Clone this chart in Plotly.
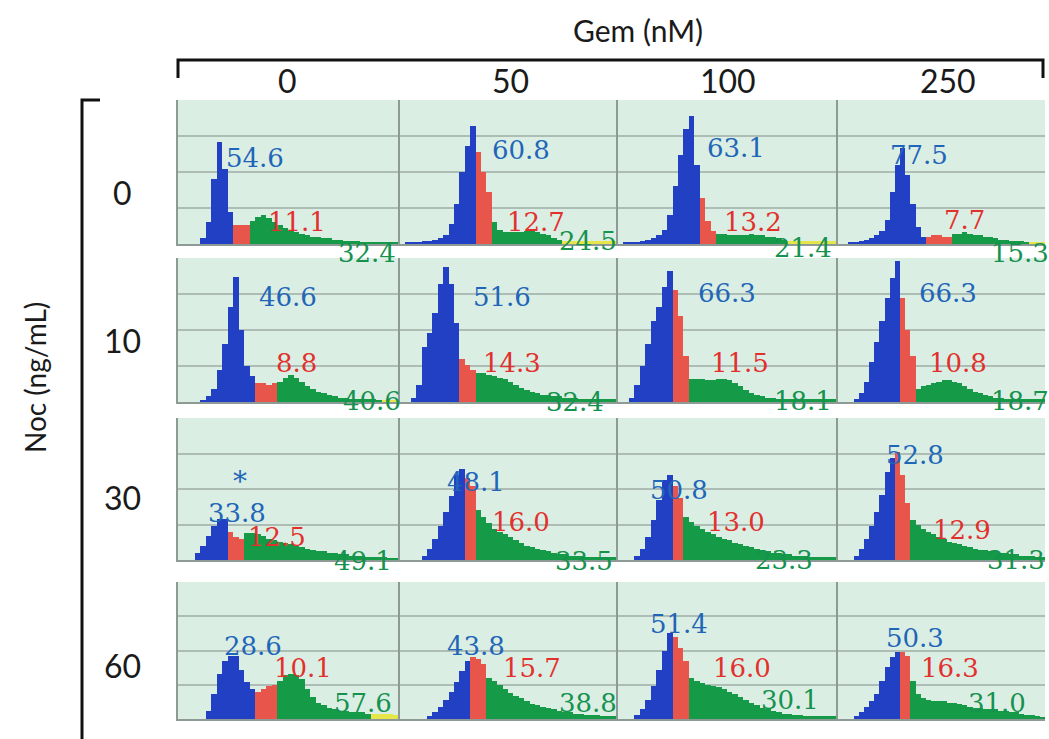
import plotly.graph_objects as go

# Treatment levels
gem_labels = ["0", "50", "100", "250"]      # Gem (nM), columns
noc_labels = ["0", "10", "30", "60"]        # Noc (ng/mL), rows

# Cell-cycle fractions (%) per Noc row x Gem column
g1_pct = [[54.6, 60.8, 63.1, 77.5],
          [46.6, 51.6, 66.3, 66.3],
          [33.8, 48.1, 50.8, 52.8],
          [28.6, 43.8, 51.4, 50.3]]
s_pct = [[11.1, 12.7, 13.2, 7.7],
         [8.8, 14.3, 11.5, 10.8],
         [12.5, 16.0, 13.0, 12.9],
         [10.1, 15.7, 16.0, 16.3]]
g2m_pct = [[32.4, 24.5, 21.4, 15.3],
           [40.6, 32.4, 18.1, 18.7],
           [49.1, 33.5, 23.3, 31.3],
           [57.6, 38.8, 30.1, 31.0]]

# DNA-content histograms: 40 bins, relative counts (% of plot height)
hist_noc0 = [
    [0, 0, 0, 0, 4, 15, 45, 71, 52, 22, 13, 13, 13, 16, 19, 20, 18, 15, 13, 11, 9, 8, 7, 6, 5, 5, 4, 4, 3, 3, 2, 2, 2, 1.5, 1.5, 1, 1, 1, 1, 1],
    [0, 1, 1, 1.5, 2, 2, 3, 4, 6, 14, 28, 50, 68, 82, 64, 50, 36, 15, 10, 8, 8, 8, 8, 9, 9, 8, 7, 6, 4, 3, 2, 2, 2, 2, 2, 2, 2, 2, 2, 2],
    [0, 1, 1, 1.5, 2, 3, 4, 6, 10, 20, 40, 62, 80, 89, 55, 32, 16, 9, 7, 7, 6, 6, 6, 6, 7, 6, 6, 5, 5, 4, 3, 2, 2, 2, 2, 2, 2, 2, 2, 2],
    [0, 0, 1, 1, 2, 3, 4, 6, 9, 17, 36, 55, 67, 48, 28, 12, 5, 5, 6, 6, 5, 5, 7, 7, 8, 7, 6, 6, 5, 5, 4, 3, 3, 2, 2, 2, 1.5, 1.5, 1.5, 1.5],
]
hist_noc10 = [
    [0, 0, 0, 0, 1, 4, 9, 22, 40, 66, 87, 50, 25, 18, 13, 13, 12, 13, 14, 17, 19, 17, 14, 11, 9, 7, 6, 5, 4, 3, 3, 2, 2, 2, 2, 2, 1.5, 1.5, 1.5, 1.5],
    [0, 0, 3, 12, 38, 48, 62, 82, 94, 82, 55, 30, 26, 22, 20, 20, 19, 18, 17, 16, 14, 12, 10, 8, 7, 6, 5, 5, 4, 4, 3, 3, 3, 2, 2, 2, 2, 2, 2, 2],
    [0, 0, 3, 12, 25, 40, 56, 66, 80, 91, 78, 60, 32, 16, 16, 16, 15, 15, 16, 16, 15, 13, 11, 8, 6, 5, 4, 3, 3, 2, 2, 2, 2, 2, 2, 2, 2, 2, 2, 2],
    [0, 0, 0, 2, 6, 14, 28, 42, 56, 72, 86, 98, 72, 50, 32, 9, 11, 12, 13, 14, 15, 15, 14, 13, 11, 9, 7, 6, 5, 4, 3, 3, 2, 2, 2, 2, 2, 2, 2, 2],
]
hist_noc30 = [
    [0, 0, 0, 5, 10, 17, 24, 29, 29, 20, 16, 15, 19, 19, 18, 17, 15, 14, 13, 12, 11, 10, 9, 8, 7, 6, 6, 5, 5, 4, 4, 3, 3, 3, 2, 2, 2, 2, 1.5, 1.5],
    [0, 0, 0, 0, 3, 8, 15, 24, 34, 45, 60, 64, 58, 52, 35, 30, 26, 22, 20, 18, 16, 14, 12, 10, 9, 8, 7, 6, 5, 4, 4, 3, 3, 3, 2, 2, 2, 2, 2, 2],
    [0, 0, 0, 3, 8, 16, 28, 42, 56, 60, 52, 44, 30, 27, 24, 22, 20, 18, 16, 15, 14, 12, 11, 10, 9, 8, 7, 6, 5, 5, 4, 4, 3, 3, 3, 2, 2, 2, 2, 2],
    [0, 0, 0, 3, 8, 15, 24, 34, 46, 62, 72, 76, 60, 40, 28, 25, 22, 20, 18, 16, 15, 13, 12, 11, 10, 9, 8, 7, 7, 6, 6, 5, 5, 4, 4, 3, 3, 3, 2, 2],
]
hist_noc60 = [
    [0, 0, 0, 0, 0, 6, 18, 33, 42, 46, 46, 36, 27, 22, 20, 22, 24, 25, 28, 32, 33, 32, 29, 22, 16, 12, 10, 8, 7, 6, 6, 5, 5, 5, 4, 4, 4, 4, 4, 3],
    [0, 0, 0, 0, 0, 2, 5, 9, 14, 20, 27, 35, 42, 45, 44, 40, 30, 28, 25, 22, 19, 17, 15, 13, 11, 10, 9, 8, 7, 6, 5, 5, 4, 4, 3, 3, 3, 2, 2, 2],
    [0, 0, 0, 3, 7, 14, 24, 36, 50, 63, 60, 52, 42, 30, 28, 26, 25, 24, 23, 22, 20, 18, 16, 14, 12, 10, 8, 7, 6, 5, 4, 4, 3, 3, 2, 2, 2, 2, 2, 2],
    [0, 0, 0, 2, 5, 9, 13, 18, 28, 38, 45, 49, 49, 46, 28, 18, 15, 14, 13, 13, 13, 12, 12, 11, 10, 9, 8, 8, 7, 7, 7, 6, 6, 5, 5, 4, 3, 3, 2, 1],
]
histograms = [hist_noc0, hist_noc10, hist_noc30, hist_noc60]

# Gate boundaries (bin index where S, G2/M and the tail gate begin)
s_gate = [[10, 14, 15, 17], [14, 11, 10, 12], [9, 12, 10, 11], [14, 13, 10, 12]]
g2m_gate = [[13, 17, 18, 22], [18, 14, 13, 15], [12, 14, 12, 14], [18, 16, 13, 14]]
tail_gate = [[40, 30, 31, 37], [37, 40, 40, 40], [40, 40, 40, 40], [35, 40, 40, 40]]

# ---- layout geometry (pixels) ----
W, H = 1049, 739
col_px = [(178, 398), (400, 616), (618, 836), (838, 1045)]
row_px = [(100, 244), (258, 402), (418, 560), (582, 719)]

# label anchor points relative to each panel (0-100 of width / height)
g1_xy = [[(35, 60), (56, 65), (54, 67), (39, 62)],
         [(50, 73), (47, 73), (50, 76), (53, 76)],
         [(27, 33), (35, 55), (28, 49), (37, 74)],
         [(34, 53), (35, 53), (28, 69), (37, 59)]]
s_xy = [[(54, 15), (63, 15), (62, 15), (61, 17)],
        [(54, 27), (52, 27), (56, 27), (58, 27)],
        [(45, 16), (56, 27), (54, 27), (60, 21)],
        [(57, 37), (61, 37), (57, 37), (54, 37)]]
g2m_xy = [[(86, -6), (87, 2), (85, -3), (88, -6)],
          [(88, 1), (81, 0), (85, 1), (88, 1)],
          [(84, -1), (85, -1), (76, 0), (86, 0)],
          [(84, 12), (87, 12), (79, 14), (77, 12)]]

BLUE, RED, GREEN, YELLOW = "#2140c4", "#e8554b", "#159a47", "#e6e64a"
TXT_BLUE, TXT_RED, TXT_GREEN = "#1f66b8", "#e2312d", "#16924f"
NUM_FONT = "DejaVu Serif"
SANS = "Lato"


def px(x):
    return x / W


def py(y):
    return 1 - y / H


def panel_point(r, c, ax, ay):
    x0, x1 = col_px[c]
    y0, y1 = row_px[r]
    return px(x0 + ax / 100 * (x1 - x0)), py(y1 - ay / 100 * (y1 - y0))


def paper_text(x, y, text, size, color, family, **kw):
    return dict(x=x, y=y, xref="paper", yref="paper", text=text, showarrow=False,
                xanchor="center", yanchor="middle",
                font=dict(family=family, size=size, color=color), **kw)


fig = go.Figure()
layout_axes = {}
annotations = []
bin_w = 2.5
centers = [bin_w * i + bin_w / 2 for i in range(40)]

for r in range(4):
    for c in range(4):
        n = r * 4 + c + 1
        sfx = "" if n == 1 else str(n)
        xref, yref = "x" + sfx, "y" + sfx
        counts = histograms[r][c]
        b1, b2, b3 = s_gate[r][c], g2m_gate[r][c], tail_gate[r][c]
        segments = [(0, b1, BLUE), (b1, b2, RED), (b2, b3, GREEN), (b3, 40, YELLOW)]
        for lo, hi, col in segments:
            if hi <= lo:
                continue
            fig.add_trace(go.Bar(
                x=centers[lo:hi], y=counts[lo:hi], width=bin_w,
                marker=dict(color=col, line=dict(width=0)),
                xaxis=xref, yaxis=yref, showlegend=False, hoverinfo="skip"))

        x0, x1 = col_px[c]
        y0, y1 = row_px[r]
        layout_axes["xaxis" + sfx] = dict(
            domain=[px(x0), px(x1)], range=[0, 100], anchor=yref,
            showgrid=False, showticklabels=False, zeroline=False,
            showline=True, linecolor="#8e9a95", linewidth=2, ticks="", fixedrange=True)
        layout_axes["yaxis" + sfx] = dict(
            domain=[py(y1), py(y0)], range=[0, 100], anchor=xref,
            tickvals=[25, 50, 75], showticklabels=False, ticks="",
            showgrid=True, gridcolor="#aebcb6", gridwidth=1.5, zeroline=False,
            showline=True, linecolor="#8e9a95", linewidth=2, fixedrange=True)

        for val, (ax, ay), colr in [(g1_pct[r][c], g1_xy[r][c], TXT_BLUE),
                                    (s_pct[r][c], s_xy[r][c], TXT_RED),
                                    (g2m_pct[r][c], g2m_xy[r][c], TXT_GREEN)]:
            x, y = panel_point(r, c, ax, ay)
            annotations.append(paper_text(x, y, f"{val:.1f}", 26, colr, NUM_FONT))

# asterisk over the Noc 30 / Gem 0 G1 value
ax_, ay_ = panel_point(2, 0, 28, 55)
annotations.append(paper_text(ax_, ay_, "*", 28, TXT_BLUE, NUM_FONT))

# column / row headers
annotations.append(paper_text(px(638), py(30), "Gem (nM)", 30, "#1a1a1a", SANS))
for c, lab in enumerate(gem_labels):
    xc = [287, 510, 728, 948][c]
    annotations.append(paper_text(px(xc), py(80), lab, 32, "#1a1a1a", SANS))
for r, lab in enumerate(noc_labels):
    yc = [192, 340, 497, 665][r]
    annotations.append(paper_text(px(122), py(yc), lab, 32, "#1a1a1a", SANS))
annotations.append(paper_text(px(35), py(378), "Noc (ng/mL)", 28, "#1a1a1a", SANS,
                              textangle=-90))

shapes = [
    dict(type="path", xref="paper", yref="paper",
         path=f"M {px(178)},{py(78)} L {px(178)},{py(60)} L {px(1043)},{py(60)} L {px(1043)},{py(78)}",
         line=dict(color="#111111", width=3)),
    dict(type="path", xref="paper", yref="paper",
         path=f"M {px(100)},{py(100)} L {px(82)},{py(100)} L {px(82)},{py(739)}",
         line=dict(color="#111111", width=3)),
]

fig.update_layout(
    width=W, height=H, autosize=False,
    margin=dict(l=0, r=0, t=0, b=0),
    paper_bgcolor="white", plot_bgcolor="#dbeee4",
    barmode="overlay", bargap=0,
    annotations=annotations, shapes=shapes,
    **layout_axes)

fig.write_html("out.html")
